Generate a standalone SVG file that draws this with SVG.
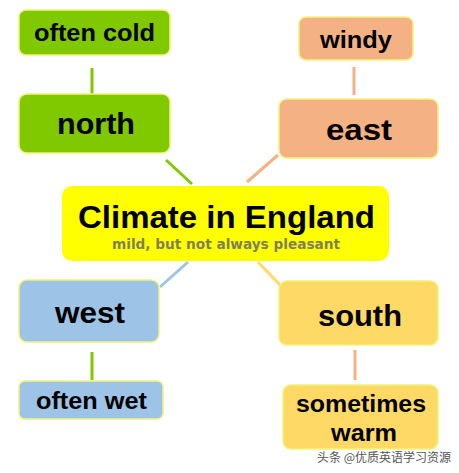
<svg xmlns="http://www.w3.org/2000/svg" width="459" height="473" viewBox="0 0 459 473">
<style>
.box{stroke:#f2f27a;stroke-width:1.5}
.g{fill:#80c800}
.o{fill:#f4b183}
.b{fill:#9dc3e6}
.y{fill:#ffd966}
.t{font-family:"Liberation Sans",Arial,sans-serif;font-weight:bold;fill:#000;text-anchor:middle}
.c{stroke-width:3;fill:none}
</style>
<rect width="459" height="473" fill="#fff"/>
<g id="connectors">
<line class="c" x1="92" y1="68" x2="92" y2="94" stroke="#80c800"/>
<line class="c" x1="166" y1="160" x2="192" y2="184" stroke="#80c800"/>
<line class="c" x1="354" y1="67" x2="354" y2="95" stroke="#f4b183"/>
<line class="c" x1="278" y1="155" x2="247" y2="182" stroke="#f4b183"/>
<line class="c" x1="160" y1="287" x2="188" y2="262" stroke="#9dc3e6"/>
<line class="c" x1="92" y1="352" x2="92" y2="380" stroke="#80c800"/>
<line class="c" x1="258" y1="262" x2="282" y2="287" stroke="#ffd966"/>
<line class="c" x1="355" y1="350" x2="355" y2="380" stroke="#f4b183"/>
</g>
<g id="often-cold">
<rect class="box g" x="19" y="10" width="151" height="45" rx="7"/>
<text class="t" x="94.5" y="41" font-size="23" textLength="121" lengthAdjust="spacingAndGlyphs">often cold</text>
</g>
<g id="north">
<rect class="box g" x="19" y="94" width="151" height="59" rx="8"/>
<text class="t" x="96" y="134" font-size="30" textLength="78" lengthAdjust="spacingAndGlyphs">north</text>
</g>
<g id="windy">
<rect class="box o" x="299" y="17" width="114" height="43" rx="7"/>
<text class="t" x="356" y="48" font-size="23" textLength="72" lengthAdjust="spacingAndGlyphs">windy</text>
</g>
<g id="east">
<rect class="box o" x="279" y="99" width="159" height="59" rx="8"/>
<text class="t" x="359" y="140" font-size="30" textLength="66" lengthAdjust="spacingAndGlyphs">east</text>
</g>
<g id="center">
<rect x="62" y="186" width="327" height="75" rx="10" fill="#ffff00"/>
<text class="t" x="226.5" y="228" font-size="31" textLength="297" lengthAdjust="spacingAndGlyphs">Climate in England</text>
<text x="226" y="249" font-family="'DejaVu Sans',sans-serif" font-weight="bold" font-size="14" fill="#7f7f5a" text-anchor="middle" textLength="228" lengthAdjust="spacingAndGlyphs">mild, but not always pleasant</text>
</g>
<g id="west">
<rect class="box b" x="19" y="280" width="140" height="62" rx="8"/>
<text class="t" x="90" y="323" font-size="30" textLength="70" lengthAdjust="spacingAndGlyphs">west</text>
</g>
<g id="often-wet">
<rect class="box b" x="19" y="381" width="144" height="38" rx="6"/>
<text class="t" x="91.5" y="409" font-size="23" textLength="111" lengthAdjust="spacingAndGlyphs">often wet</text>
</g>
<g id="south">
<rect class="box y" x="279" y="281" width="159" height="64" rx="8"/>
<text class="t" x="360" y="326" font-size="30" textLength="84" lengthAdjust="spacingAndGlyphs">south</text>
</g>
<g id="sometimes-warm">
<rect class="box y" x="283" y="385" width="155" height="64" rx="8"/>
<text class="t" x="361" y="412" font-size="23" textLength="130" lengthAdjust="spacingAndGlyphs">sometimes</text>
<text class="t" x="364" y="441" font-size="23" textLength="66" lengthAdjust="spacingAndGlyphs">warm</text>
</g>
<text x="384" y="462" font-family="'Noto Sans CJK SC',sans-serif" font-size="12" fill="#555" text-anchor="middle">头条 @优质英语学习资源</text>
</svg>
